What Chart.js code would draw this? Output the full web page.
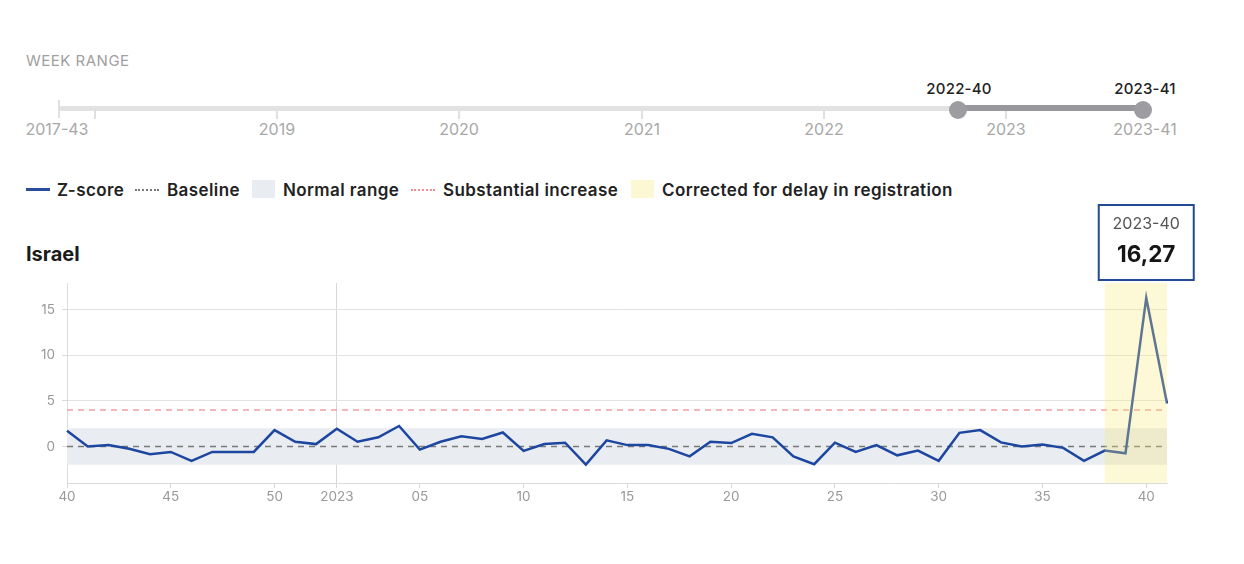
<!DOCTYPE html>
<html>
<head>
<meta charset="utf-8">
<script src="https://cdn.jsdelivr.net/npm/chart.js@4.4.1/dist/chart.umd.min.js"></script>
<style>
  html,body{margin:0;padding:0;background:#fff;}
  body{width:1244px;height:564px;position:relative;overflow:hidden;font-family:"Inter","Noto Sans",sans-serif;}
  .abs{position:absolute;white-space:nowrap;}
  .wr{left:26px;top:51px;font-size:15px;color:#a0a0a0;letter-spacing:0.5px;font-weight:400;}
  .track{left:59px;top:106px;width:1084px;height:5px;background:#e2e2e2;border-radius:3px;}
  .sel{left:958px;top:105px;width:185px;height:6px;background:#98989c;}
  .handle{width:18px;height:18px;border-radius:50%;background:#9d9da1;top:101px;}
  .hl{font-size:15px;font-weight:500;color:#222;top:79px;transform:translateX(-50%);letter-spacing:0.2px;}
  .tk{width:2px;background:#e0e0e0;}
  .bl{font-size:16px;color:#a8a8a8;top:119px;transform:translateX(-50%);}
  .lg{top:180px;font-size:17px;font-weight:600;color:#222;letter-spacing:0.4px;}
  .title{left:26px;top:242px;font-size:20px;font-weight:700;color:#1a1a1a;}
  #wrap{position:absolute;left:0;top:200px;width:1244px;height:320px;}
</style>
</head>
<body>
<div class="abs wr">WEEK RANGE</div>
<div class="abs tk" style="left:58px;top:100px;height:18px;"></div>
<div class="abs track"></div>
<div class="abs tk" style="left:94px;top:111px;height:8px;"></div>
<div class="abs tk" style="left:276px;top:111px;height:8px;"></div>
<div class="abs tk" style="left:458px;top:111px;height:8px;"></div>
<div class="abs tk" style="left:641px;top:111px;height:8px;"></div>
<div class="abs tk" style="left:823px;top:111px;height:8px;"></div>
<div class="abs tk" style="left:1005px;top:111px;height:8px;"></div>
<div class="abs sel"></div>
<div class="abs handle" style="left:949px;"></div>
<div class="abs handle" style="left:1134px;"></div>
<div class="abs hl" style="left:959px;">2022-40</div>
<div class="abs hl" style="left:1145px;">2023-41</div>
<div class="abs bl" style="left:57px;">2017-43</div>
<div class="abs bl" style="left:277px;">2019</div>
<div class="abs bl" style="left:459px;">2020</div>
<div class="abs bl" style="left:642px;">2021</div>
<div class="abs bl" style="left:824px;">2022</div>
<div class="abs bl" style="left:1006px;">2023</div>
<div class="abs bl" style="left:1145px;">2023-41</div>

<div class="abs" style="left:26px;top:188px;width:24px;height:3px;background:#2a4c9c;"></div>
<div class="abs lg" style="left:57px;">Z-score</div>
<div class="abs" style="left:135px;top:189px;width:24px;border-top:2px dotted #777;"></div>
<div class="abs lg" style="left:167px;">Baseline</div>
<div class="abs" style="left:252px;top:180px;width:23px;height:18px;background:#e9edf1;"></div>
<div class="abs lg" style="left:283px;">Normal range</div>
<div class="abs" style="left:411px;top:189px;width:24px;border-top:2px dotted #ee8f92;"></div>
<div class="abs lg" style="left:443px;">Substantial increase</div>
<div class="abs" style="left:631px;top:180px;width:23px;height:18px;background:#fdf8d4;"></div>
<div class="abs lg" style="left:662px;">Corrected for delay in registration</div>

<div class="abs title">Israel</div>

<div id="wrap"><canvas id="c" width="1244" height="320"></canvas></div>

<script>
const weeks = ['2022-40','2022-41','2022-42','2022-43','2022-44','2022-45','2022-46','2022-47','2022-48','2022-49','2022-50','2022-51','2022-52',
  '2023-01','2023-02','2023-03','2023-04','2023-05','2023-06','2023-07','2023-08','2023-09','2023-10','2023-11','2023-12','2023-13','2023-14',
  '2023-15','2023-16','2023-17','2023-18','2023-19','2023-20','2023-21','2023-22','2023-23','2023-24','2023-25','2023-26','2023-27','2023-28',
  '2023-29','2023-30','2023-31','2023-32','2023-33','2023-34','2023-35','2023-36','2023-37','2023-38','2023-39','2023-40','2023-41'];
const zscore = [1.72,0.0,0.15,-0.26,-0.86,-0.6,-1.57,-0.6,-0.6,-0.6,1.79,0.52,0.26,
  1.94,0.52,1.0,2.24,-0.34,0.52,1.12,0.82,1.53,-0.49,0.26,0.41,-1.98,0.67,
  0.15,0.15,-0.26,-1.08,0.52,0.37,1.38,1.0,-1.08,-1.94,0.41,-0.6,0.15,-0.97,
  -0.45,-1.57,1.49,1.79,0.45,0.0,0.22,-0.15,-1.57,-0.45,-0.75,16.27,4.7];
const baseline = weeks.map(() => 0);
const normalUpper = weeks.map(() => 2);
const normalLower = weeks.map(() => -2);
const substantial = weeks.map(() => 4);
const yTicks = [0, 5, 10, 15];
const correctedFrom = '2023-38';
const tooltipWeek = '2023-40';
const FONT = 'Inter, "Noto Sans", sans-serif';

function xLabel(w) {
  const [yr, wk] = w.split('-');
  const n = parseInt(wk, 10);
  if (n === 1) return yr;
  if (n % 5 === 0) return wk;
  return '';
}

const overlayPlugin = {
  id: 'overlay',
  afterDatasetsDraw(chart) {
    const {ctx, chartArea, scales} = chart;
    const i0 = weeks.indexOf(correctedFrom);
    const x0 = scales.x.getPixelForValue(i0);
    const x1 = scales.x.getPixelForValue(weeks.length - 1);
    ctx.save();
    ctx.fillStyle = 'rgba(250,232,120,0.3)';
    ctx.fillRect(x0, chartArea.top, x1 - x0, chartArea.bottom - chartArea.top);
    ctx.restore();
  },
  afterDraw(chart) {
    const {ctx, scales} = chart;
    const i = weeks.indexOf(tooltipWeek);
    const cx = scales.x.getPixelForValue(i);
    const w = 95, h = 75, top = 5;
    const left = cx - w / 2;
    ctx.save();
    ctx.fillStyle = '#fff';
    ctx.fillRect(left, top, w, h);
    ctx.strokeStyle = '#234a92';
    ctx.lineWidth = 2;
    ctx.strokeRect(left, top, w, h);
    ctx.textAlign = 'center';
    ctx.textBaseline = 'middle';
    ctx.fillStyle = '#555';
    ctx.font = '16px ' + FONT;
    ctx.fillText(tooltipWeek, cx, top + 19);
    ctx.fillStyle = '#151515';
    ctx.font = 'bold 22.5px ' + FONT;
    ctx.fillText(zscore[i].toFixed(2).replace('.', ','), cx, top + 50);
    ctx.restore();
  }
};

new Chart(document.getElementById('c'), {
  type: 'line',
  data: {
    labels: weeks,
    datasets: [
      {label:'Z-score', data: zscore, borderColor:'#1d46a0', borderWidth:2.5, pointRadius:0, tension:0, order:0, fill:false},
      {label:'Baseline', data: baseline, borderColor:'#7a7a7a', borderWidth:1.5, borderDash:[6,5], pointRadius:0, order:1, fill:false},
      {label:'Substantial increase', data: substantial, borderColor:'#f0a0a3', borderWidth:1.5, borderDash:[6,5], pointRadius:0, order:2, fill:false},
      {label:'Normal upper', data: normalUpper, borderWidth:0, borderColor:'rgba(0,0,0,0)', backgroundColor:'#e9edf1', pointRadius:0, order:3, fill:'+1'},
      {label:'Normal lower', data: normalLower, borderWidth:0, borderColor:'rgba(0,0,0,0)', pointRadius:0, order:4, fill:false}
    ]
  },
  options: {
    responsive: false,
    animation: false,
    layout: {padding: {top: 83, right: 77, left: 0, bottom: 0}},
    plugins: {legend: {display: false}, tooltip: {enabled: false}},
    scales: {
      x: {
        offset: false,
        afterFit: s => { s.height = 37; },
        border: {display: true, color: '#dcdcdc'},
        grid: {
          color: ctx => (ctx.tick && weeks[ctx.index].endsWith('-01')) ? '#d8d8d8' : 'rgba(0,0,0,0)',
          tickColor: ctx => (ctx.tick && xLabel(weeks[ctx.index])) ? '#d8d8d8' : 'rgba(0,0,0,0)',
          tickLength: 5,
          drawOnChartArea: true
        },
        ticks: {
          autoSkip: false, maxRotation: 0, padding: 1,
          color: '#999', font: {size: 13.5, family: FONT},
          callback: (v, i) => xLabel(weeks[i])
        }
      },
      y: {
        min: -4, max: 17.9,
        afterFit: s => { s.width = 67; },
        afterBuildTicks: s => { s.ticks = yTicks.map(v => ({value: v})); },
        border: {display: true, color: '#dcdcdc'},
        grid: {color: '#e2e2e2', tickColor: '#d8d8d8', tickLength: 5},
        ticks: {color: '#999', padding: 7, font: {size: 13.5, family: FONT}}
      }
    }
  },
  plugins: [overlayPlugin]
});
</script>
</body>
</html>
